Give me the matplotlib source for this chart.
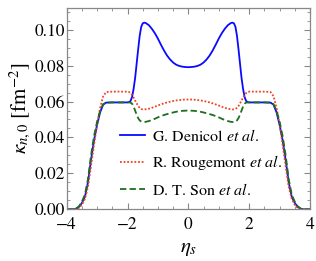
import numpy as np
import matplotlib
matplotlib.use("Agg")
import matplotlib.pyplot as plt
from matplotlib.ticker import MultipleLocator

plt.rcParams['font.family'] = ['STIXGeneral', 'DejaVu Serif']
plt.rcParams['mathtext.fontset'] = 'stix'

# eta_s values (left half, the curves are symmetric about 0)
eta_half = [-4.0, -3.8, -3.7, -3.6, -3.5, -3.4, -3.3, -3.2, -3.1, -3.0, -2.9, -2.8,
            -2.7, -2.5, -2.2, -2.0, -1.95, -1.9, -1.85, -1.8, -1.75, -1.7, -1.65,
            -1.6, -1.55, -1.5, -1.45, -1.4, -1.3, -1.2, -1.1, -1.0, -0.9, -0.8,
            -0.7, -0.6, -0.5, -0.4, -0.3, -0.2, -0.1, 0.0]

denicol_half = [0.0, 0.0, 0.0003, 0.0013, 0.0035, 0.0070, 0.0150, 0.0275, 0.0385,
                0.0470, 0.0540, 0.0583, 0.0594, 0.0595, 0.0595, 0.0595, 0.0597,
                0.0603, 0.0625, 0.0670, 0.0730, 0.0810, 0.0890, 0.0965, 0.1015,
                0.1035, 0.1039, 0.1037, 0.1025, 0.1005, 0.0980, 0.0950, 0.0916,
                0.0884, 0.0856, 0.0834, 0.0817, 0.0805, 0.0798, 0.0794, 0.0792,
                0.0791]

rougemont_half = [0.0, 0.0, 0.0001, 0.0007, 0.0025, 0.0058, 0.0125, 0.0240, 0.0360,
                  0.0475, 0.0565, 0.0630, 0.0653, 0.0655, 0.0655, 0.0655, 0.0653,
                  0.0647, 0.0636, 0.0622, 0.0605, 0.0590, 0.0575, 0.0565, 0.0559,
                  0.0556, 0.0556, 0.0557, 0.0560, 0.0565, 0.0571, 0.0578, 0.0584,
                  0.0590, 0.0595, 0.0599, 0.0603, 0.0606, 0.0608, 0.0610, 0.0611,
                  0.0611]

son_half = [0.0, 0.0, 0.0003, 0.0016, 0.0042, 0.0082, 0.0168, 0.0300, 0.0408,
            0.0488, 0.0548, 0.0585, 0.0594, 0.0595, 0.0595, 0.0595, 0.0595,
            0.0594, 0.0588, 0.0572, 0.0550, 0.0527, 0.0508, 0.0495, 0.0489,
            0.0486, 0.0486, 0.0487, 0.0491, 0.0497, 0.0504, 0.0512, 0.0519,
            0.0525, 0.0530, 0.0535, 0.0539, 0.0543, 0.0546, 0.0548, 0.0549,
            0.0550]

labels = ["G. Denicol $\\it{et\\ al.}$",
          "R. Rougemont $\\it{et\\ al.}$",
          "D. T. Son $\\it{et\\ al.}$"]

def full(vals):
    return list(vals) + list(vals[-2::-1])

eta = list(eta_half) + [-e for e in eta_half[-2::-1]]

fig = plt.figure(figsize=(3.16, 2.61), dpi=100)
ax = fig.add_axes([0.211, 0.198, 0.770, 0.771])

ax.plot(eta, full(denicol_half), color='#0a0aff', lw=1.3, ls='-', label=labels[0])
ax.plot(eta, full(rougemont_half), color='#ee4422', lw=1.3, ls=(0, (1, 1)), label=labels[1])
ax.plot(eta, full(son_half), color='#1e6e1e', lw=1.3, ls=(0, (3.5, 1.8)), label=labels[2])

ax.set_xlim(-4, 4)
ax.set_ylim(0, 0.112)
ax.xaxis.set_major_locator(MultipleLocator(2))
ax.xaxis.set_minor_locator(MultipleLocator(0.5))
ax.yaxis.set_major_locator(MultipleLocator(0.02))
ax.yaxis.set_minor_locator(MultipleLocator(0.005))
ax.yaxis.set_major_formatter(matplotlib.ticker.FormatStrFormatter('%.2f'))
ax.tick_params(which='both', direction='in', top=True, right=True, color='#888888',
               labelsize=12.5)
ax.tick_params(axis='y', pad=1.5)
ax.tick_params(axis='x', pad=5.5)
ax.tick_params(which='major', length=4, width=0.8)
ax.tick_params(which='minor', length=2, width=0.6)
for s in ax.spines.values():
    s.set_color('#888888')
    s.set_linewidth(0.9)

def fmt(v, pos):
    return ("\u2212%d" % abs(v)) if v < 0 else "%d" % v
ax.xaxis.set_major_formatter(matplotlib.ticker.FuncFormatter(fmt))

ax.set_xlabel(r'$\eta_s$', fontsize=15, labelpad=4)
ax.set_ylabel(r'$\kappa_{n,0}\ [\mathrm{fm}^{-2}]$', fontsize=15, labelpad=1)

ax.legend(loc='upper left', bbox_to_anchor=(0.185, 0.445), frameon=False, fontsize=11.5,
          handlelength=1.6, handletextpad=0.45, labelspacing=0.6, borderpad=0)

fig.savefig('out.png', dpi=100)
